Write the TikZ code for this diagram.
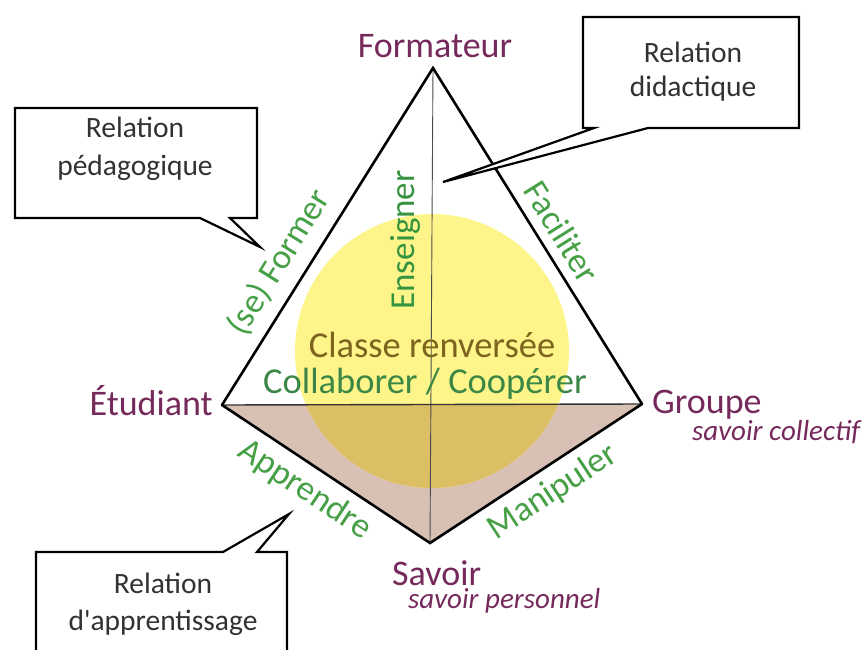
\documentclass[tikz,border=0pt]{standalone}
\usepackage{fontspec}
\setmainfont{Carlito}
\definecolor{vpurple}{RGB}{118,42,92}
\definecolor{egreen}{RGB}{70,160,70}
\definecolor{dgreen}{RGB}{60,135,70}
\definecolor{olive}{RGB}{125,100,30}
\definecolor{ctext}{RGB}{50,50,50}
\definecolor{brownfill}{RGB}{216,192,180}
\definecolor{yellowfill}{RGB}{253,245,138}
\definecolor{goldfill}{RGB}{220,190,100}
\tikzset{
  vlabel/.style={inner sep=0pt, text=vpurple, font=\fontsize{36}{42}\selectfont},
  sublabel/.style={inner sep=0pt, text=vpurple, font=\fontsize{29}{34}\selectfont\itshape},
  elabel/.style={inner sep=0pt, text=egreen, font=\fontsize{35}{40}\selectfont},
  ctxt/.style={inner sep=0pt, text=ctext, font=\fontsize{29.5}{34}\selectfont, anchor=base},
  callout/.style={draw=black, line width=2.2pt, fill=white, line join=miter},
  thickedge/.style={draw=black, line width=2.6pt, line join=miter, line cap=round},
}
\begin{document}
\begin{tikzpicture}[x=1pt,y=-1pt]
\useasboundingbox (0,0) rectangle (864,650);
\clip (0,0) rectangle (864,650);
\fill[white] (0,0) rectangle (864,650);
% vertices
\coordinate (F) at (433,68);
\coordinate (E) at (222,405);
\coordinate (G) at (642,404);
\coordinate (S) at (430,543);
\coordinate (C) at (432,351);
% lower face
\fill[brownfill] (E) -- (G) -- (S) -- cycle;
% circle
\fill[yellowfill] (C) circle[radius=137];
\begin{scope}
  \clip (E) -- (G) -- (S) -- cycle;
  \fill[goldfill] (C) circle[radius=137];
\end{scope}
% inner lines
\draw[line width=0.9pt, black!70] (F) -- (S);
\draw[line width=1.4pt, black!80] (E) -- (G);
% outer edges
\draw[thickedge] (E) -- (F) -- (G);
\draw[thickedge] (E) -- (S) -- (G);
% callouts
\draw[callout] (15,108) -- (257,108) -- (257,218) -- (230,218) -- (260,247) -- (200,218) -- (15,218) -- cycle;
\draw[callout] (583,17) -- (799,17) -- (799,128) -- (648,128) -- (443,182) -- (594,128) -- (583,128) -- cycle;
\draw[callout] (36,552) -- (223,552) -- (289,514) -- (257,552) -- (287,552) -- (287,670) -- (36,670) -- cycle;
\node[ctxt] (p1) at (135,137) {Relation};
\node[ctxt] (p2) at (135,175) {pédagogique};
\node[ctxt] (d1) at (693,63) {Relation};
\node[ctxt] (d2) at (693,97) {didactique};
\node[ctxt] (a1) at (163,593) {Relation};
\node[ctxt] (a2) at (163,630) {d\textquotesingle apprentissage};
% vertex labels
\node[vlabel, anchor=base] (lF) at (435,58) {Formateur};
\node[vlabel, anchor=base east] (lE) at (213,415) {Étudiant};
\node[vlabel, anchor=base west] (lG) at (652,413) {Groupe};
\node[sublabel, anchor=base west] (lGs) at (692,440) {savoir collectif};
\node[vlabel, anchor=base west] (lS) at (392,585) {Savoir};
\node[sublabel, anchor=base west] (lSs) at (408,608) {savoir personnel};
% edge labels
\node[elabel, rotate=58] (eEF) at (279,262) {(se) Former};
\node[elabel, rotate=-58] (eFG) at (562,232) {Faciliter};
\node[elabel, rotate=90, text=dgreen!90!green] (eFS) at (405,240) {Enseigner};
\node[elabel, rotate=-33.6] (eES) at (305,490) {Apprendre};
\node[elabel, rotate=33.3] (eSG) at (553,492) {Manipuler};
% centre
\node[inner sep=0pt, anchor=base, text=olive, font=\fontsize{36.5}{42}\selectfont] (cl) at (432,357) {Classe renversée};
\node[inner sep=0pt, anchor=base, text=dgreen, font=\fontsize{36.5}{42}\selectfont] (co) at (425,393) {Collaborer / Coopérer};
\end{tikzpicture}
\end{document}
